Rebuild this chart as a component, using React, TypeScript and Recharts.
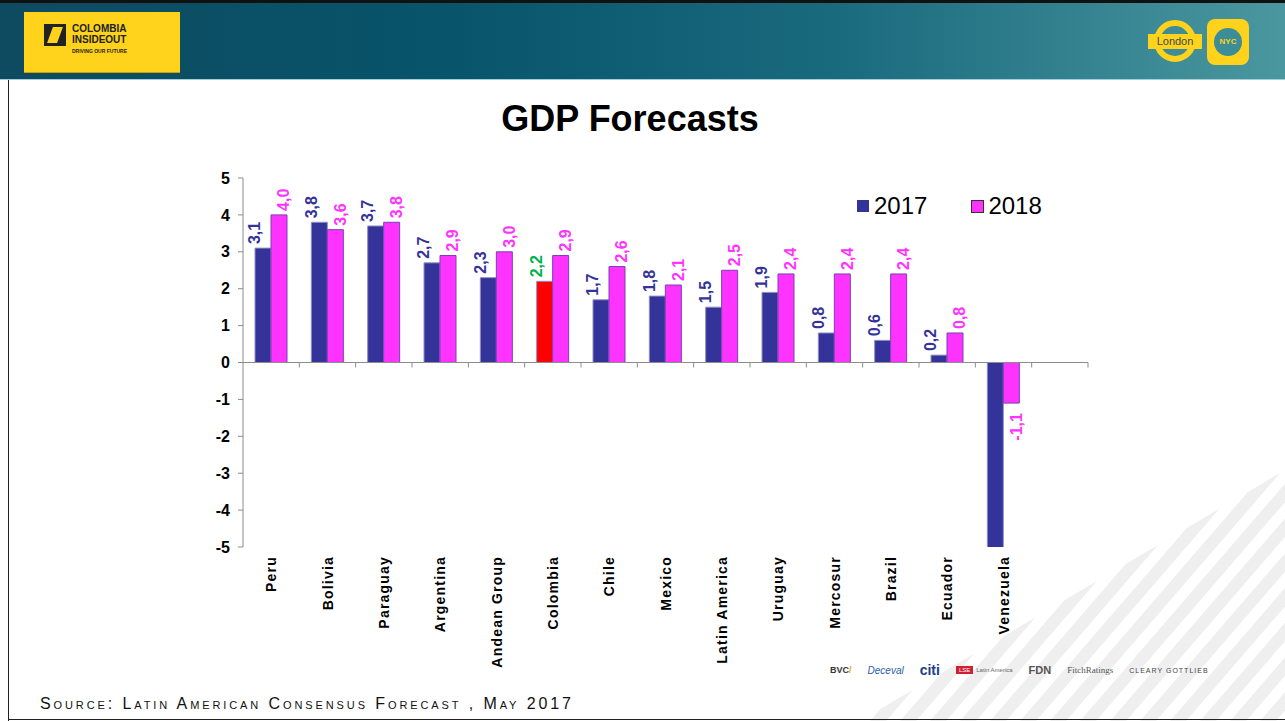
import React from 'react';
import { BarChart, Bar, XAxis, YAxis, Cell, LabelList, ReferenceLine } from 'recharts';

const categories = [
  'Peru', 'Bolivia', 'Paraguay', 'Argentina', 'Andean Group', 'Colombia', 'Chile',
  'Mexico', 'Latin America', 'Uruguay', 'Mercosur', 'Brazil', 'Ecuador', 'Venezuela', '',
];
const gdp2017 = [3.1, 3.8, 3.7, 2.7, 2.3, 2.2, 1.7, 1.8, 1.5, 1.9, 0.8, 0.6, 0.2, -7.4, null];
const gdp2018 = [4.0, 3.6, 3.8, 2.9, 3.0, 2.9, 2.6, 2.1, 2.5, 2.4, 2.4, 2.4, 0.8, -1.1, null];
const yTicks = [-5, -4, -3, -2, -1, 0, 1, 2, 3, 4, 5];

const NAVY = '#333399';
const PINK = '#FF33FF';
const HIGHLIGHT = 'Colombia';

const W = 1285;
const H = 721;
const PLOT_TOP = 178;
const PLOT_BOTTOM = 547;
const PLOT_LEFT = 243;
const PLOT_RIGHT = 1088;
const ZERO_Y = (PLOT_TOP + PLOT_BOTTOM) / 2;
const SLOT = (PLOT_RIGHT - PLOT_LEFT) / categories.length;
const FONT = '"Liberation Sans", Arial, sans-serif';

const data = categories.map((name, i) => ({ name, y2017: gdp2017[i], y2018: gdp2018[i] }));

const fmt = (v: number) => v.toFixed(1).replace('.', ',');

function makeLabel(color: string, dx: number, highlightColor?: string) {
  return (props: any) => {
    const { x, y, width, height, value, index } = props;
    if (value == null) return null;
    const top = Math.min(y, y + height);
    const bottom = Math.max(y, y + height);
    // label of a bar running off the bottom of the plot is cut off in the original
    if (value < 0 && bottom - top > PLOT_BOTTOM - ZERO_Y) return null;
    const cx = x + width / 2 + dx;
    const fill = highlightColor && categories[index] === HIGHLIGHT ? highlightColor : color;
    const neg = value < 0;
    const ly = neg ? bottom + 10 : top - 4;
    return (
      <text
        x={cx}
        y={ly}
        transform={`rotate(-90 ${cx} ${ly})`}
        textAnchor={neg ? 'end' : 'start'}
        dominantBaseline="central"
        fill={fill}
        fontFamily={FONT}
        fontWeight="bold"
        fontSize={16}
      >
        {fmt(value)}
      </text>
    );
  };
}

const XTick = (props: any) => {
  const { x, payload } = props;
  const bx = x + SLOT / 2;
  return (
    <g>
      <line x1={bx} x2={bx} y1={ZERO_Y} y2={ZERO_Y + 5} stroke="#8c8c8c" />
      {payload.value && (
        <text
          x={x}
          y={556}
          transform={`rotate(-90 ${x} 556)`}
          textAnchor="end"
          dominantBaseline="central"
          fill="#000"
          fontFamily={FONT}
          fontWeight="bold"
          fontSize={14}
          letterSpacing={1.2}
        >
          {payload.value}
        </text>
      )}
    </g>
  );
};

const Stripes = () => (
  <svg width={W} height={H} style={{ position: 'absolute', left: 0, top: 0 }}>
    <defs>
      <clipPath id="stripeClip">
        <polygon points="860,721 1285,470 1285,721" />
      </clipPath>
    </defs>
    <g clipPath="url(#stripeClip)">
      {Array.from({ length: 24 }).map((_, i) => {
        const x0 = 840 + i * 30;
        return <polygon key={i} points={`${x0},721 ${x0 + 260},420 ${x0 + 276},420 ${x0 + 16},721`} fill="#efefef" />;
      })}
    </g>
  </svg>
);

const Header = () => (
  <div
    style={{
      position: 'absolute', left: 0, top: 0, width: W, height: 80,
      background: 'linear-gradient(90deg, #0f4b60 0%, #07546b 35%, #1a6a7e 65%, #4a979f 100%)',
      borderTop: '3px solid #111', boxSizing: 'border-box',
      borderBottom: '1px solid #9fd0dc',
    }}
  >
    <div
      style={{
        position: 'absolute', left: 24, top: 9, width: 156, height: 60, background: '#FFD21C',
        boxShadow: '0 1px 0 #c9a400',
      }}
    >
      <div style={{ position: 'absolute', left: 20, top: 12, width: 22, height: 22, background: '#222' }}>
        <div style={{ position: 'absolute', left: 6, top: 3, width: 10, height: 16, background: '#FFD21C', transform: 'skewX(-20deg)' }} />
      </div>
      <div style={{ position: 'absolute', left: 48, top: 11, fontFamily: FONT, fontSize: 10, fontWeight: 'bold', lineHeight: '11px', color: '#222' }}>
        COLOMBIA<br />INSIDEOUT
      </div>
      <div style={{ position: 'absolute', left: 48, top: 36, fontFamily: FONT, fontSize: 5, fontWeight: 'bold', color: '#222' }}>
        DRIVING OUR FUTURE
      </div>
    </div>
    <div style={{ position: 'absolute', left: 1154, top: 17, width: 42, height: 42, borderRadius: 21, border: '6px solid #FFD21C', boxSizing: 'border-box' }} />
    <div
      style={{
        position: 'absolute', left: 1148, top: 31, width: 54, height: 15, background: '#FFD21C', color: '#3a4a55',
        fontFamily: FONT, fontSize: 11, textAlign: 'center', lineHeight: '15px',
      }}
    >
      London
    </div>
    <div
      style={{
        position: 'absolute', left: 1207, top: 16, width: 42, height: 46, borderRadius: 8, background: '#FFD21C',
      }}
    >
      <div
        style={{
          position: 'absolute', left: 7, top: 9, width: 28, height: 28, borderRadius: 14, background: '#3c8d96',
          color: '#FFD21C', fontFamily: FONT, fontSize: 8, fontWeight: 'bold', textAlign: 'center', lineHeight: '28px',
        }}
      >
        NYC
      </div>
    </div>
  </div>
);

const Legend = () => (
  <div style={{ position: 'absolute', left: 857, top: 192, fontFamily: FONT, fontSize: 24, color: '#000', display: 'flex', alignItems: 'center' }}>
    <span style={{ width: 12, height: 12, background: NAVY, display: 'inline-block', marginRight: 5 }} />
    <span>2017</span>
    <span style={{ width: 11, height: 11, background: PINK, border: '1px solid #333', display: 'inline-block', marginLeft: 44, marginRight: 4 }} />
    <span>2018</span>
  </div>
);

const Sponsors = () => (
  <div style={{ position: 'absolute', left: 830, top: 662, display: 'flex', alignItems: 'center', gap: 16, fontFamily: FONT }}>
    <span style={{ fontSize: 9, fontWeight: 'bold', color: '#333' }}>BVC<span style={{ color: '#e8a000' }}>/</span></span>
    <span style={{ fontSize: 10, fontStyle: 'italic', color: '#2a5cab' }}>Deceval</span>
    <span style={{ fontSize: 14, fontWeight: 'bold', color: '#1b3e8c' }}>citi</span>
    <span style={{ fontSize: 6, color: '#666' }}><span style={{ background: '#d0202f', color: '#fff', padding: '1px 3px', marginRight: 3 }}>LSE</span>Latin America</span>
    <span style={{ fontSize: 11, fontWeight: 'bold', color: '#555' }}>FDN</span>
    <span style={{ fontSize: 9, fontFamily: '"Liberation Serif", serif', color: '#555' }}>FitchRatings</span>
    <span style={{ fontSize: 7, letterSpacing: 1, color: '#444' }}>CLEARY GOTTLIEB</span>
  </div>
);

export default function App() {
  return (
    <div style={{ position: 'absolute', left: 0, top: 0, width: W, height: H, background: '#fff', overflow: 'hidden' }}>
      <Stripes />
      <Header />
      <div style={{ position: 'absolute', left: 8, top: 80, width: 1, height: H - 80, background: '#222' }} />
      <div style={{ position: 'absolute', left: 8, top: H - 2, width: W, height: 1, background: '#222' }} />
      <div
        style={{
          position: 'absolute', left: 0, top: 98, width: 1260, textAlign: 'center',
          fontFamily: FONT, fontWeight: 'bold', fontSize: 36, color: '#000',
        }}
      >
        GDP Forecasts
      </div>
      <div style={{ position: 'absolute', left: 0, top: 0 }}>
        <BarChart
          width={W}
          height={H}
          data={data}
          margin={{ top: PLOT_TOP, right: W - PLOT_RIGHT, bottom: H - PLOT_BOTTOM - 130, left: PLOT_LEFT - 60 }}
          barGap={0}
          barSize={16}
        >
          <XAxis dataKey="name" height={130} axisLine={false} tickLine={false} interval={0} tick={<XTick />} />
          <YAxis
            width={60}
            domain={[-5, 5]}
            ticks={yTicks}
            allowDataOverflow
            axisLine={{ stroke: '#8c8c8c' }}
            tickLine={{ stroke: '#8c8c8c' }}
            tickSize={5}
            tickMargin={8}
            tick={{ fill: '#000', fontFamily: FONT, fontWeight: 'bold', fontSize: 16 }}
          />
          <ReferenceLine y={0} stroke="#8c8c8c" />
          <Bar dataKey="y2017" fill={NAVY} stroke="#8f8fc4" strokeWidth={1} isAnimationActive={false}>
            {data.map((d, i) => (
              <Cell key={i} fill={d.name === HIGHLIGHT ? '#FF0000' : NAVY} />
            ))}
            <LabelList dataKey="y2017" content={makeLabel(NAVY, -8, '#00B050')} />
          </Bar>
          <Bar dataKey="y2018" fill={PINK} stroke="#7a3fb5" strokeWidth={1} isAnimationActive={false}>
            <LabelList dataKey="y2018" content={makeLabel(PINK, 5)} />
          </Bar>
        </BarChart>
      </div>
      <Legend />
      <Sponsors />
      <div
        style={{
          position: 'absolute', left: 40, top: 695, fontFamily: FONT, fontSize: 16,
          fontVariant: 'small-caps', letterSpacing: 2.9, color: '#111',
        }}
      >
        Source: Latin American Consensus Forecast , May 2017
      </div>
    </div>
  );
}
